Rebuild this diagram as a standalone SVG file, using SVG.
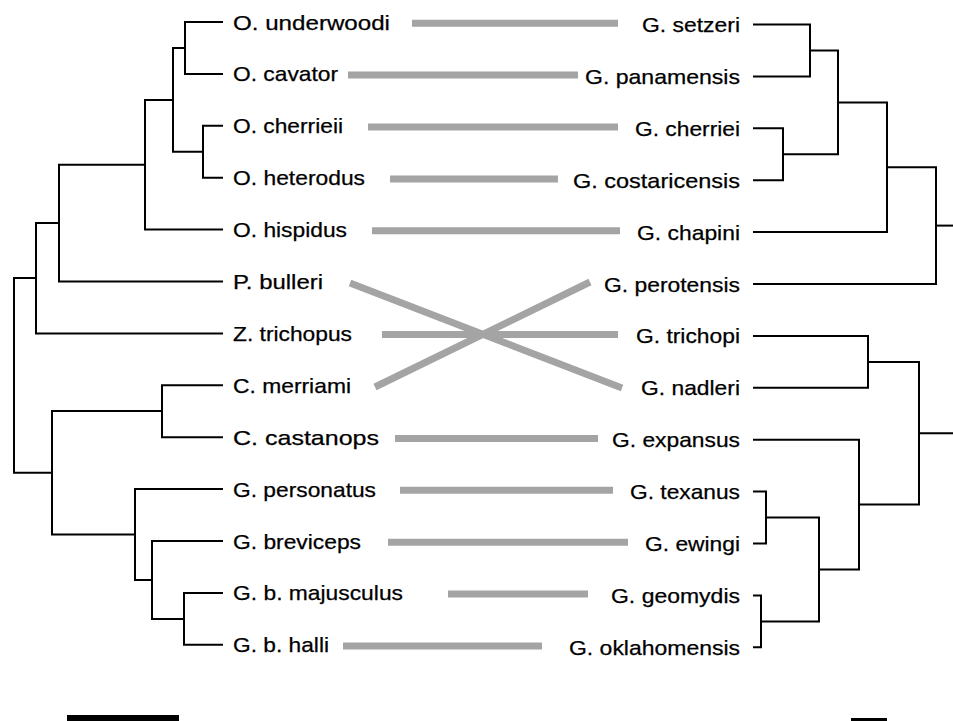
<svg xmlns="http://www.w3.org/2000/svg" width="953" height="721" viewBox="0 0 953 721">
  <style>
    .br { fill: none; stroke: #000; stroke-width: 2; stroke-linejoin: miter; }
    .assoc { stroke: #a4a4a4; stroke-width: 7; stroke-linecap: butt; }
    .lab { font-family: "Liberation Sans", Arial, Helvetica, sans-serif; font-size: 21px; fill: #000; stroke: #000; stroke-width: 0.25; }
    .rt { text-anchor: end; }
  </style>
  <rect width="953" height="721" fill="#fff"/>

  <!-- connectors: tree branches and host-parasite association bars -->
  <g id="connectors">
    <g id="tree-left">
      <path class="br" d="M223,22 H185 V73.9 H223"/>
      <path class="br" d="M223,125.8 H203 V177.7 H223"/>
      <path class="br" d="M185,48 H173 V151.7 H203"/>
      <path class="br" d="M173,99.9 H145 V229.6 H223"/>
      <path class="br" d="M145,164.7 H59 V281.5 H223"/>
      <path class="br" d="M59,223 H36 V333.4 H223"/>
      <path class="br" d="M36,278 H14 V472.8 H52"/>
      <path class="br" d="M162,411 H52 V534.5 H135"/>
      <path class="br" d="M223,385.3 H162 V437.2 H223"/>
      <path class="br" d="M223,489.1 H135 V580 H152"/>
      <path class="br" d="M223,541 H152 V618.9 H184"/>
      <path class="br" d="M223,592.9 H184 V644.8 H223"/>
    </g>
    <g id="tree-right">
      <path class="br" d="M753,24.5 H810 V76.4 H753"/>
      <path class="br" d="M753,128.3 H783 V180.2 H753"/>
      <path class="br" d="M810,50.5 H838 V154.3 H783"/>
      <path class="br" d="M838,102.4 H887 V232.1 H753"/>
      <path class="br" d="M887,167.3 H936 V284 H753"/>
      <path class="br" d="M936,225.6 H953"/>
      <path class="br" d="M753,335.9 H868 V387.8 H753"/>
      <path class="br" d="M868,361.9 H919 V504.6 H859"/>
      <path class="br" d="M919,433.3 H953"/>
      <path class="br" d="M753,439.7 H859 V569.5 H819"/>
      <path class="br" d="M766,517.6 H819 V621.4 H761"/>
      <path class="br" d="M753,491.6 H766 V543.5 H753"/>
      <path class="br" d="M753,595.4 H761 V647.3 H753"/>
    </g>
    <g id="associations">
      <line class="assoc" x1="412" y1="23.2" x2="618" y2="23.2"/>
      <line class="assoc" x1="348" y1="75.1" x2="578" y2="75.1"/>
      <line class="assoc" x1="368" y1="127" x2="618" y2="127"/>
      <line class="assoc" x1="390" y1="178.9" x2="558" y2="178.9"/>
      <line class="assoc" x1="372" y1="230.8" x2="620" y2="230.8"/>
      <line class="assoc" x1="350" y1="283" x2="622" y2="388"/>
      <line class="assoc" x1="382" y1="334.6" x2="618" y2="334.6"/>
      <line class="assoc" x1="375" y1="387" x2="590" y2="282"/>
      <line class="assoc" x1="395" y1="438.4" x2="598" y2="438.4"/>
      <line class="assoc" x1="400" y1="490.3" x2="613" y2="490.3"/>
      <line class="assoc" x1="388" y1="542.2" x2="628" y2="542.2"/>
      <line class="assoc" x1="448" y1="594.1" x2="588" y2="594.1"/>
      <line class="assoc" x1="343" y1="646" x2="542" y2="646"/>
    </g>
  </g>

  <!-- host taxa (left) -->
  <g id="h-underwoodi"><text class="lab" x="233" y="29.5" textLength="157" lengthAdjust="spacingAndGlyphs">O. underwoodi</text></g>
  <g id="h-cavator"><text class="lab" x="233" y="81.4" textLength="105" lengthAdjust="spacingAndGlyphs">O. cavator</text></g>
  <g id="h-cherrieii"><text class="lab" x="233" y="133.3" textLength="110" lengthAdjust="spacingAndGlyphs">O. cherrieii</text></g>
  <g id="h-heterodus"><text class="lab" x="233" y="185.2" textLength="132" lengthAdjust="spacingAndGlyphs">O. heterodus</text></g>
  <g id="h-hispidus"><text class="lab" x="233" y="237.1" textLength="114" lengthAdjust="spacingAndGlyphs">O. hispidus</text></g>
  <g id="h-bulleri"><text class="lab" x="233" y="289" textLength="90" lengthAdjust="spacingAndGlyphs">P. bulleri</text></g>
  <g id="h-trichopus"><text class="lab" x="233" y="340.9" textLength="119" lengthAdjust="spacingAndGlyphs">Z. trichopus</text></g>
  <g id="h-merriami"><text class="lab" x="233" y="392.8" textLength="118" lengthAdjust="spacingAndGlyphs">C. merriami</text></g>
  <g id="h-castanops"><text class="lab" x="233" y="444.7" textLength="146" lengthAdjust="spacingAndGlyphs">C. castanops</text></g>
  <g id="h-personatus"><text class="lab" x="233" y="496.6" textLength="143" lengthAdjust="spacingAndGlyphs">G. personatus</text></g>
  <g id="h-breviceps"><text class="lab" x="233" y="548.5" textLength="128" lengthAdjust="spacingAndGlyphs">G. breviceps</text></g>
  <g id="h-majusculus"><text class="lab" x="233" y="600.4" textLength="170" lengthAdjust="spacingAndGlyphs">G. b. majusculus</text></g>
  <g id="h-halli"><text class="lab" x="233" y="652.3" textLength="96" lengthAdjust="spacingAndGlyphs">G. b. halli</text></g>

  <!-- parasite taxa (right) -->
  <g id="p-setzeri"><text class="lab rt" x="740" y="32" textLength="98" lengthAdjust="spacingAndGlyphs">G. setzeri</text></g>
  <g id="p-panamensis"><text class="lab rt" x="740" y="83.9" textLength="155" lengthAdjust="spacingAndGlyphs">G. panamensis</text></g>
  <g id="p-cherriei"><text class="lab rt" x="740" y="135.8" textLength="105" lengthAdjust="spacingAndGlyphs">G. cherriei</text></g>
  <g id="p-costaricensis"><text class="lab rt" x="740" y="187.7" textLength="167" lengthAdjust="spacingAndGlyphs">G. costaricensis</text></g>
  <g id="p-chapini"><text class="lab rt" x="740" y="239.6" textLength="103" lengthAdjust="spacingAndGlyphs">G. chapini</text></g>
  <g id="p-perotensis"><text class="lab rt" x="740" y="291.5" textLength="136" lengthAdjust="spacingAndGlyphs">G. perotensis</text></g>
  <g id="p-trichopi"><text class="lab rt" x="740" y="343.4" textLength="104" lengthAdjust="spacingAndGlyphs">G. trichopi</text></g>
  <g id="p-nadleri"><text class="lab rt" x="740" y="395.3" textLength="99" lengthAdjust="spacingAndGlyphs">G. nadleri</text></g>
  <g id="p-expansus"><text class="lab rt" x="740" y="447.2" textLength="128" lengthAdjust="spacingAndGlyphs">G. expansus</text></g>
  <g id="p-texanus"><text class="lab rt" x="740" y="499.1" textLength="110" lengthAdjust="spacingAndGlyphs">G. texanus</text></g>
  <g id="p-ewingi"><text class="lab rt" x="740" y="551" textLength="95" lengthAdjust="spacingAndGlyphs">G. ewingi</text></g>
  <g id="p-geomydis"><text class="lab rt" x="740" y="602.9" textLength="129" lengthAdjust="spacingAndGlyphs">G. geomydis</text></g>
  <g id="p-oklahomensis"><text class="lab rt" x="740" y="654.8" textLength="171" lengthAdjust="spacingAndGlyphs">G. oklahomensis</text></g>

  <!-- scale bars -->
  <g id="scale-bars">
    <rect x="67" y="715" width="112" height="6" fill="#000"/>
    <rect x="851" y="718" width="36" height="3" fill="#000"/>
  </g>
</svg>
